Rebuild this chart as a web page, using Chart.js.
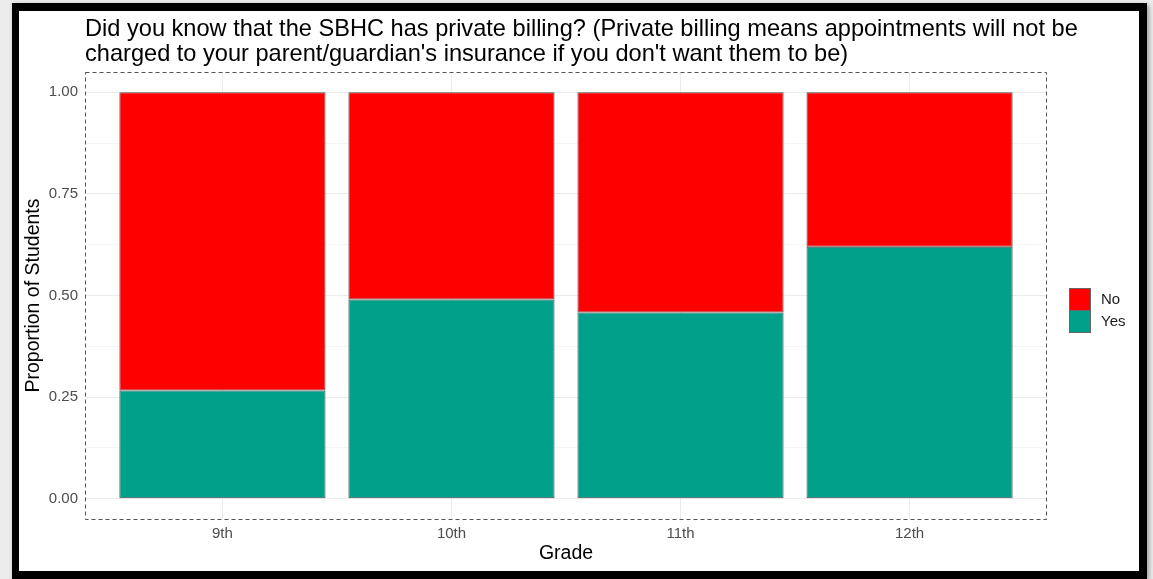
<!DOCTYPE html>
<html>
<head>
<meta charset="utf-8">
<script src="https://cdn.jsdelivr.net/npm/chart.js@4.4.1/dist/chart.umd.min.js"></script>
<style>
  html, body { margin: 0; padding: 0; background: #ececec; width: 1153px; height: 579px; overflow: hidden; }
  #frame {
    position: absolute; left: 12px; top: 3px;
    width: 1120px; height: 560px;
    border-style: solid; border-color: #000;
    border-width: 8px 8px 8px 7px;
    background: #fff;
    box-shadow: 2px 2px 5px rgba(0,0,0,0.35);
  }
  canvas { display: block; }
</style>
</head>
<body>
<div id="frame"><canvas id="chart" width="1120" height="560"></canvas></div>
<script>
// data
const grades = ['9th', '10th', '11th', '12th'];
const yesShare = [0.266, 0.490, 0.458, 0.620];
const noShare = [0.734, 0.510, 0.542, 0.380];
const yTickValues = [0, 0.25, 0.5, 0.75, 1];
const yTickLabels = ['0.00', '0.25', '0.50', '0.75', '1.00'];
const yMinorValues = [0.125, 0.375, 0.625, 0.875];

const titleLines = [
  "Did you know that the SBHC has private billing? (Private billing means appointments will not be",
  "charged to your parent/guardian's insurance if you don't want them to be)"
];

Chart.defaults.font.family = "'Liberation Sans', Arial, sans-serif";

// title starts at the panel's left edge (ggplot default), so draw it here
const panelTitle = {
  id: 'panelTitle',
  afterDraw(chart) {
    const ctx = chart.ctx;
    ctx.save();
    ctx.font = "23.6px 'Liberation Sans', Arial, sans-serif";
    ctx.fillStyle = '#000';
    ctx.textBaseline = 'alphabetic';
    titleLines.forEach((t, i) => ctx.fillText(t, chart.chartArea.left, 25 + i * 25));
    ctx.restore();
  }
};

// dashed panel border like the ggplot one
const panelBorder = {
  id: 'panelBorder',
  afterDatasetsDraw(chart) {
    const a = chart.chartArea, ctx = chart.ctx;
    ctx.save();
    ctx.strokeStyle = '#555';
    ctx.lineWidth = 1;
    ctx.setLineDash([4, 3]);
    ctx.strokeRect(Math.round(a.left) + 0.5, Math.round(a.top) + 0.5,
      Math.round(a.right - a.left) - 1, Math.round(a.bottom - a.top));
    ctx.restore();
  }
};

// legend on the right, keys stacked without gaps (No above Yes)
const keyLegend = {
  id: 'keyLegend',
  afterDraw(chart) {
    const ctx = chart.ctx, a = chart.chartArea;
    const sets = chart.data.datasets.slice().reverse();
    const size = 22;
    const x = a.right + 22;
    let y = (a.top + a.bottom) / 2 - sets.length * size / 2 + 14.5;
    ctx.save();
    ctx.font = "15px 'Liberation Sans', Arial, sans-serif";
    ctx.textBaseline = 'middle';
    sets.forEach(ds => {
      ctx.fillStyle = ds.backgroundColor;
      ctx.fillRect(x, y, size - 1, size);
      ctx.strokeStyle = '#666';
      ctx.lineWidth = 1;
      ctx.strokeRect(x + 0.5, y + 0.5, size - 1, size);
      ctx.fillStyle = '#1a1a1a';
      ctx.fillText(ds.label, x + size + 10, y + size / 2 + 1);
      y += size;
    });
    ctx.restore();
  }
};

new Chart(document.getElementById('chart').getContext('2d'), {
  type: 'bar',
  data: {
    datasets: [{
      label: 'Yes',
      data: yesShare.map((v, i) => ({ x: i + 1, y: v })),
      backgroundColor: '#00A08A',
      borderColor: '#4d4d4d',
      borderWidth: 1,
      borderSkipped: false
    }, {
      label: 'No',
      data: noShare.map((v, i) => ({ x: i + 1, y: v })),
      backgroundColor: '#FF0000',
      borderColor: '#4d4d4d',
      borderWidth: 1,
      borderSkipped: false
    }]
  },
  options: {
    responsive: false,
    animation: false,
    devicePixelRatio: 1,
    layout: { padding: { top: 61, right: 92, bottom: 0, left: 0 } },
    datasets: { bar: { barPercentage: 0.9, categoryPercentage: 1 } },
    plugins: {
      legend: { display: false },
      tooltip: { enabled: false },
      title: { display: false }
    },
    scales: {
      x: {
        type: 'linear',
        stacked: true,
        offset: false,
        min: 0.4,
        max: 4.6,
        afterBuildTicks: s => { s.ticks = grades.map((g, i) => ({ value: i + 1 })); },
        afterFit: s => { s.height = 52; },
        border: { display: false },
        grid: { color: '#ebebeb', drawTicks: false, offset: false },
        ticks: {
          padding: 6,
          color: '#4d4d4d',
          font: { size: 15 },
          maxRotation: 0,
          callback: v => grades[v - 1]
        },
        title: {
          display: true,
          text: 'Grade',
          color: '#000',
          font: { size: 19.5 },
          padding: { top: 0, bottom: 6 }
        }
      },
      y: {
        stacked: true,
        min: -0.05,
        max: 1.05,
        afterBuildTicks: s => {
          s.ticks = yTickValues.concat(yMinorValues).sort((p, q) => p - q).map(v => ({ value: v }));
        },
        afterFit: s => { s.width = 66; },
        border: { display: false },
        grid: {
          color: '#ebebeb',
          drawTicks: false,
          lineWidth: c => yTickValues.includes(c.tick.value) ? 1 : 0.5
        },
        ticks: {
          padding: 7,
          color: '#4d4d4d',
          font: { size: 15 },
          callback: v => {
            const k = yTickValues.indexOf(v);
            return k >= 0 ? yTickLabels[k] : '';
          }
        },
        title: {
          display: true,
          text: 'Proportion of Students',
          color: '#000',
          font: { size: 19.5 },
          padding: { top: 3, bottom: 0 }
        }
      }
    }
  },
  plugins: [panelBorder, keyLegend, panelTitle]
});
</script>
</body>
</html>
